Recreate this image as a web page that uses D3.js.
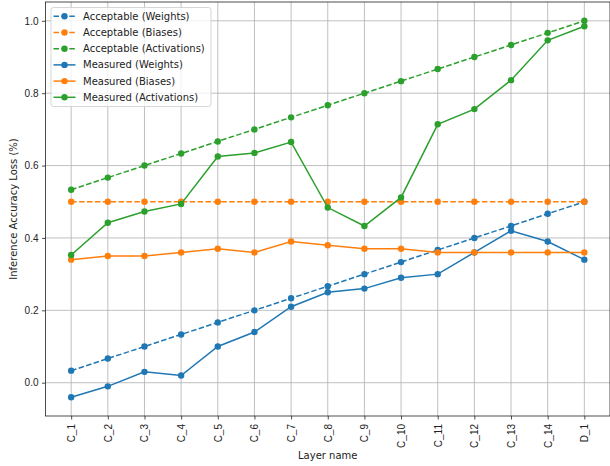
<!DOCTYPE html>
<html><head><meta charset="utf-8">
<script src="https://cdn.jsdelivr.net/npm/d3@7"></script>
<style>body{margin:0;background:#fff}svg{display:block;font-family:"DejaVu Sans",sans-serif}</style>
</head><body><svg id="c" width="610" height="466"></svg>
<script>
const categories = ["C_1","C_2","C_3","C_4","C_5","C_6","C_7","C_8","C_9","C_10","C_11","C_12","C_13","C_14","D_1"];
const acceptableWeights = [0.0333,0.0667,0.1,0.1333,0.1667,0.2,0.2333,0.2667,0.3,0.3333,0.3667,0.4,0.4333,0.4667,0.5];
const acceptableBiases = [0.5,0.5,0.5,0.5,0.5,0.5,0.5,0.5,0.5,0.5,0.5,0.5,0.5,0.5,0.5];
const acceptableActivations = [0.5333,0.5667,0.6,0.6333,0.6667,0.7,0.7333,0.7667,0.8,0.8333,0.8667,0.9,0.9333,0.9667,1.0];
const measuredWeights = [-0.04,-0.01,0.03,0.02,0.10,0.14,0.21,0.25,0.26,0.29,0.30,0.36,0.42,0.39,0.34];
const measuredBiases = [0.34,0.35,0.35,0.36,0.37,0.36,0.39,0.38,0.37,0.37,0.36,0.36,0.36,0.36,0.36];
const measuredActivations = [0.353,0.442,0.473,0.494,0.625,0.635,0.665,0.484,0.433,0.512,0.714,0.756,0.836,0.946,0.985];
const yTicks = [0.0,0.2,0.4,0.6,0.8,1.0];
const seriesNames = ["Acceptable (Weights)","Acceptable (Biases)","Acceptable (Activations)","Measured (Weights)","Measured (Biases)","Measured (Activations)"];
const colors = ["#1f77b4","#ff7f0e","#2ca02c"];

const series = [
  {name:seriesNames[0], values:acceptableWeights, color:colors[0], dashed:true},
  {name:seriesNames[1], values:acceptableBiases, color:colors[1], dashed:true},
  {name:seriesNames[2], values:acceptableActivations, color:colors[2], dashed:true},
  {name:seriesNames[3], values:measuredWeights, color:colors[0], dashed:false},
  {name:seriesNames[4], values:measuredBiases, color:colors[1], dashed:false},
  {name:seriesNames[5], values:measuredActivations, color:colors[2], dashed:false}
];

const L=45.5, R=610, T=2, B=416;
const FS=10;
const svg = d3.select("#c");
const x = d3.scalePoint().domain(categories).range([L+0.7*(R-L)/15.4, R-0.7*(R-L)/15.4]);
const y = d3.scaleLinear().domain([-0.092,1.052]).range([B,T]);

// grid
const g = svg.append("g");
g.selectAll(".vg").data(categories).join("line")
  .attr("x1",d=>x(d)).attr("x2",d=>x(d)).attr("y1",T).attr("y2",B)
  .attr("stroke","#b0b0b0").attr("stroke-width",0.8);
g.selectAll(".hg").data(yTicks).join("line")
  .attr("x1",L).attr("x2",R).attr("y1",d=>y(d)).attr("y2",d=>y(d))
  .attr("stroke","#b0b0b0").attr("stroke-width",0.8);

// axes
const xa = svg.append("g").attr("transform",`translate(0,${B})`)
  .call(d3.axisBottom(x).tickSize(3.5).tickPadding(3.5));
xa.select(".domain").remove();
xa.selectAll("text").attr("transform","rotate(-90)").attr("text-anchor","end")
  .attr("x",-8).attr("y",0).attr("dy","0.35em").attr("font-size",FS).attr("fill","#222");
const ya = svg.append("g").attr("transform",`translate(${L},0)`)
  .call(d3.axisLeft(y).tickValues(yTicks).tickFormat(d3.format(".1f")).tickSize(3.5).tickPadding(3.5));
ya.select(".domain").remove();
ya.selectAll("text").attr("font-size",FS).attr("fill","#222");
svg.selectAll(".tick line").attr("stroke","#222").attr("stroke-width",0.8);

// spines
svg.append("rect").attr("x",L).attr("y",T).attr("width",R-L).attr("height",B-T)
  .attr("fill","none").attr("stroke","#222").attr("stroke-width",0.8);

// lines
const line = d3.line().x((d,i)=>x(categories[i])).y(d=>y(d));
series.forEach(s=>{
  svg.append("path").datum(s.values).attr("d",line).attr("fill","none")
    .attr("stroke",s.color).attr("stroke-width",1.5)
    .attr("stroke-dasharray",s.dashed?"5.5,2.4":null);
  svg.append("g").selectAll("circle").data(s.values).join("circle")
    .attr("cx",(d,i)=>x(categories[i])).attr("cy",d=>y(d)).attr("r",3.2).attr("fill",s.color);
});

// labels
svg.append("text").attr("x",(L+R)/2).attr("y",459).attr("text-anchor","middle")
  .attr("font-size",FS).attr("fill","#222").text("Layer name");
svg.append("text").attr("transform",`translate(17,${(T+B)/2}) rotate(-90)`).attr("text-anchor","middle")
  .attr("font-size",FS).attr("fill","#222").text("Inference Accuracy Loss (%)");

// legend
const lg = svg.append("g").attr("transform","translate(51,7.5)");
lg.append("rect").attr("width",160).attr("height",99).attr("rx",2.5)
  .attr("fill","#fff").attr("fill-opacity",0.8).attr("stroke","#ccc").attr("stroke-width",0.8);
series.forEach((s,i)=>{
  const yy = 8.8 + i*16.2;
  lg.append("line").attr("x1",2.5).attr("x2",24.5).attr("y1",yy).attr("y2",yy)
    .attr("stroke",s.color).attr("stroke-width",1.5).attr("stroke-dasharray",s.dashed?"5.5,2.4":null);
  lg.append("circle").attr("cx",13.5).attr("cy",yy).attr("r",3.2).attr("fill",s.color);
  lg.append("text").attr("x",32).attr("y",yy).attr("dy","0.35em").attr("font-size",FS).attr("fill","#222").text(s.name);
});
</script></body></html>
